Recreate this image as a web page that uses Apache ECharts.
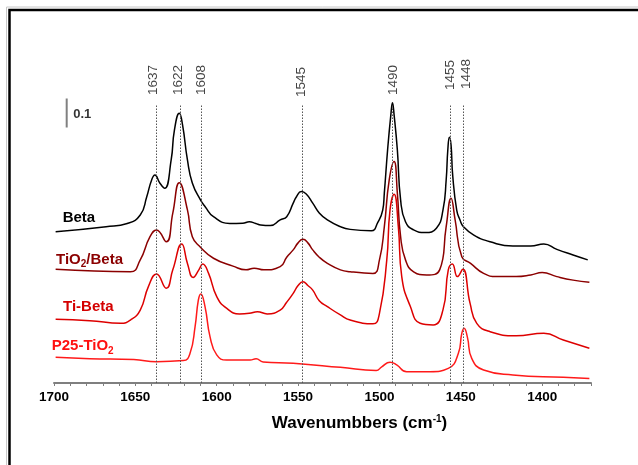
<!DOCTYPE html>
<html><head><meta charset="utf-8">
<script src="https://cdn.jsdelivr.net/npm/echarts@6/dist/echarts.min.js"></script>
<style>html,body{margin:0;padding:0;background:#fff}#c{width:638px;height:465px}</style>
</head><body><div id="c"></div>
<script>
// ---------------- data (wavenumber in cm-1, absorbance in a.u.) ----------------
const betaWn = [1699,1668,1655,1647,1643,1640,1638,1635,1632,1628,1626,1623,1621,1618,1615,1610,1607,1602,1592,1584,1580,1576,1573,1567,1561,1557,1553,1551,1548,1545,1541,1537,1532,1524,1518,1505,1501,1498,1497,1495,1493,1492,1491,1489,1487,1484,1479,1472,1465,1461,1459,1458,1457,1456,1455,1452.5,1450.5,1448.4,1442,1432,1418,1407,1399,1391,1381,1372];
const betaAbs = [0.110,0.129,0.141,0.172,0.240,0.302,0.320,0.291,0.271,0.376,0.487,0.549,0.506,0.376,0.291,0.228,0.202,0.166,0.141,0.142,0.147,0.141,0.135,0.133,0.154,0.166,0.216,0.240,0.259,0.250,0.216,0.180,0.154,0.129,0.119,0.114,0.145,0.190,0.254,0.413,0.543,0.588,0.543,0.413,0.228,0.147,0.117,0.107,0.123,0.189,0.302,0.413,0.460,0.431,0.320,0.189,0.154,0.129,0.098,0.073,0.057,0.057,0.065,0.045,0.024,0.006];

const tioBetaWn = [1699,1653,1647,1641,1637,1631,1627,1623,1618,1615,1610,1602,1590,1582,1577,1571,1561,1557,1553,1550,1547,1544,1541,1537,1532,1524,1518,1504,1500,1497,1494,1491,1489,1487,1484,1479,1471,1463,1459,1456,1453.5,1449.4,1444,1436,1428,1416,1407,1400,1391,1381,1371];
const tioBetaAbs = [0.121,0.112,0.156,0.242,0.267,0.223,0.329,0.442,0.341,0.242,0.203,0.162,0.133,0.119,0.125,0.119,0.131,0.166,0.193,0.219,0.232,0.219,0.193,0.166,0.143,0.119,0.112,0.106,0.156,0.279,0.452,0.520,0.403,0.242,0.156,0.112,0.100,0.119,0.279,0.384,0.304,0.168,0.143,0.106,0.094,0.094,0.100,0.109,0.094,0.081,0.073];

const tiBetaWn = [1699,1678,1659,1653,1647,1642,1637,1631,1627,1621.5,1618,1614.5,1611,1608.6,1605,1600,1594,1586,1580,1575,1569,1561,1557,1553,1550,1547,1544,1541,1537,1532,1524,1518,1504,1500,1495.5,1493.5,1491,1488.4,1486.3,1481,1475,1467,1461,1457.7,1455.2,1452.1,1448.8,1444.3,1440.2,1432,1416,1399,1387,1371];
const tiBetaAbs = [0.086,0.081,0.071,0.083,0.120,0.207,0.254,0.201,0.269,0.365,0.293,0.241,0.269,0.291,0.256,0.170,0.127,0.106,0.108,0.114,0.106,0.120,0.149,0.182,0.211,0.225,0.211,0.194,0.155,0.133,0.102,0.083,0.069,0.108,0.306,0.491,0.549,0.429,0.244,0.133,0.071,0.065,0.120,0.269,0.291,0.244,0.271,0.145,0.071,0.040,0.025,0.034,0.009,-0.021];

const p25Wn = [1699,1678,1651,1637,1620.5,1616.4,1613.3,1611.3,1609.8,1607.2,1604.1,1600,1594,1579.5,1575.8,1571.5,1553,1524,1502,1498.6,1493.5,1489.4,1483.3,1469,1457.7,1451.5,1449.4,1448,1446,1443.3,1436,1418,1387,1371];
const p25Abs = [0.095,0.090,0.087,0.079,0.083,0.110,0.209,0.307,0.330,0.283,0.171,0.104,0.085,0.085,0.090,0.078,0.073,0.058,0.046,0.060,0.077,0.067,0.042,0.042,0.054,0.110,0.184,0.203,0.171,0.091,0.048,0.030,0.021,0.017];

// vertical stacking offsets of the spectra
const betaOffset = 0.45;
const tioBetaOffset = 0.30;
const tiBetaOffset = 0.15;
const p25Offset = 0.0;

// marked bands
const peakLabels = ['1637','1622','1608','1545','1490','1455','1448'];
const peakWn = [1637, 1622.4, 1609.5, 1547.2, 1492.1, 1456.2, 1448.2];

// x-axis ticks
const xMin = 1370, xMax = 1700, xMinorStep = 10, xLabelStep = 50;
// scale bar (absorbance units)
const scaleBarLabel = '0.1';

// ---------------- layout / style ----------------
const FONT = '"Liberation Sans", Arial, sans-serif';
const peakLineTop = 1.03;
const peakLabelWn = [1639, 1623.8, 1609.6, 1547.8, 1491.6, 1456.6, 1446.8];
const peakLabelBase = [1.067,1.067,1.067,1.059,1.067,1.085,1.089];
const scaleBarWn = 1692.2, scaleBarLow = 0.946, scaleBarHigh = 1.054;

function build(wn, ab, off){ return wn.map((w,i)=>[w, ab[i] + off]); }

const chart = echarts.init(document.getElementById('c'), null, {renderer:'canvas'});

function spectrum(name, wn, ab, off, color){
  return {
    name, type:'line', data: build(wn, ab, off), showSymbol:false, symbol:'none',
    smooth:0.5, clip:false,
    lineStyle:{color, width:1.5}, z:3, silent:true
  };
}

const peakLineData = peakWn.map(w => [{coord:[w,0]},{coord:[w,peakLineTop]}]);

const option = {
  animation:false,
  backgroundColor:'#fff',
  grid:{left:54,right:47,top:18.5,bottom:82},
  xAxis:{
    type:'value', inverse:true, min:xMin, max:xMax, interval:xMinorStep,
    axisLine:{lineStyle:{color:'#7f7f7f',width:2}},
    axisTick:{length:3, lineStyle:{color:'#7f7f7f',width:1}},
    axisLabel:{formatter:v => (v % xLabelStep === 0 ? String(v) : ''), color:'#000', fontWeight:'bold', fontSize:13.5, fontFamily:FONT, margin:7},
    splitLine:{show:false},
    name:'{a|Wavenumbbers (cm}{b|-1}{a|)}', nameLocation:'middle', nameGap:31,
    nameTextStyle:{
      padding:[0,0,0,74],
      rich:{
        a:{fontSize:17,fontWeight:'bold',fontFamily:FONT,color:'#000',lineHeight:19,verticalAlign:'middle'},
        b:{fontSize:10,fontWeight:'bold',fontFamily:FONT,color:'#000',lineHeight:10,verticalAlign:'top'}
      }
    }
  },
  yAxis:{type:'value', min:0, max:1.35, show:false},
  series:[
    {
      name:'bands', type:'line', data:[], silent:true,
      markLine:{
        silent:true, symbol:'none', animation:false,
        label:{show:false},
        lineStyle:{color:'#555', width:1, type:[1.5,1.5]},
        data: peakLineData
      }
    },
    spectrum('P25-TiO2', p25Wn, p25Abs, p25Offset, '#ff1a1a'),
    spectrum('Ti-Beta', tiBetaWn, tiBetaAbs, tiBetaOffset, '#dd0000'),
    spectrum('TiO2/Beta', tioBetaWn, tioBetaAbs, tioBetaOffset, '#8b0000'),
    spectrum('Beta', betaWn, betaAbs, betaOffset, '#000000'),
    {
      name:'peakLabels', type:'scatter', symbolSize:1, itemStyle:{color:'rgba(0,0,0,0)'}, silent:true,
      data: peakLabels.map((t,i)=>({name:t, value:[peakLabelWn[i], peakLabelBase[i]]})),
      label:{show:true, formatter:p=>p.name, position:'inside', rotate:90, align:'left', verticalAlign:'middle',
        color:'#111', fontSize:13.5, fontFamily:FONT}
    },
    {
      name:'scaleBar', type:'line', showSymbol:false, symbol:'none', silent:true,
      data:[[scaleBarWn, scaleBarLow],[scaleBarWn, scaleBarHigh]],
      lineStyle:{color:'#808080', width:2}
    },
    {
      name:'scaleBarLabel', type:'scatter', symbolSize:1, itemStyle:{color:'rgba(0,0,0,0)'}, silent:true,
      data:[{name:scaleBarLabel, value:[scaleBarWn, (scaleBarLow+scaleBarHigh)/2]}],
      label:{show:true, formatter:p=>p.name, position:'right', distance:6, color:'#000', fontWeight:'bold', fontSize:13, fontFamily:FONT, offset:[0,1.5]}
    }
  ],
  graphic:[
    {type:'rect', silent:true, shape:{x:6.5,y:7,width:800,height:700}, style:{fill:'none', stroke:'#c8c8c8', lineWidth:1}, z:-2},
    {type:'rect', silent:true, shape:{x:9.5,y:10,width:800,height:700}, style:{fill:'none', stroke:'#000', lineWidth:2.5}, z:-1},
    {type:'text', silent:true, x:62.7, y:218, style:{text:'Beta', font:'bold 15px '+FONT, fill:'#000', verticalAlign:'middle'}},
    {type:'text', silent:true, x:56, y:259.5, style:{
      text:'{n|TiO}{s|2}{n|/Beta}', verticalAlign:'middle',
      rich:{n:{fontSize:15,fontWeight:'bold',fontFamily:FONT,fill:'#8b0000',lineHeight:20,verticalAlign:'middle'},
            s:{fontSize:10,fontWeight:'bold',fontFamily:FONT,fill:'#8b0000',lineHeight:10,verticalAlign:'bottom'}}}},
    {type:'text', silent:true, x:63, y:306.5, style:{text:'Ti-Beta', font:'bold 15px '+FONT, fill:'#d40000', verticalAlign:'middle'}},
    {type:'text', silent:true, x:51.7, y:346, style:{
      text:'{n|P25-TiO}{s|2}', verticalAlign:'middle',
      rich:{n:{fontSize:15,fontWeight:'bold',fontFamily:FONT,fill:'#ff1010',lineHeight:20,verticalAlign:'middle'},
            s:{fontSize:10,fontWeight:'bold',fontFamily:FONT,fill:'#ff1010',lineHeight:10,verticalAlign:'bottom'}}}}
  ]
};
chart.setOption(option);
</script></body></html>
